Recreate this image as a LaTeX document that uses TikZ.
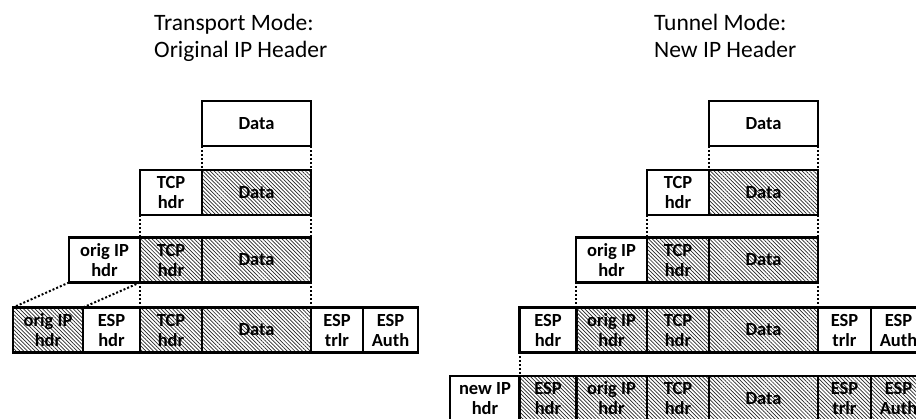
\documentclass[tikz,border=0pt]{standalone}
\usepackage{fontspec}
\setmainfont{Carlito}
\usetikzlibrary{patterns.meta}

\begin{document}
\begin{tikzpicture}[x=1pt, y=-1pt,
    pkt/.style={draw, line width=2.7pt, inner sep=0pt, outer sep=0pt, minimum height=45pt,
        align=center, text depth=-8pt, font=\bfseries\fontsize{18.5}{20}\selectfont},
    enc/.style={pkt, pattern={Lines[angle=-45, distance=2.7pt, line width=0.7pt]}, pattern color=black!85},
    guide/.style={line width=2pt, dotted},
    title/.style={anchor=base west, inner sep=0pt, align=left, font=\fontsize{23.5}{26.3}\selectfont}]
    \clip (0, 0) rectangle (916, 419);

    % transport mode
    \node[title] at (154, 57.3) (ltitle) {Transport Mode:\\Original IP Header};

    \node[pkt, minimum width=109pt] at (256.5, 123.5) (ld1) {Data};

    \node[pkt, minimum width=62pt] at (171, 192.5) (lt2) {TCP\\hdr};
    \node[enc, minimum width=109pt] at (256.5, 192.5) (ld2) {Data};

    \node[pkt, minimum width=71pt] at (104.5, 260) (lo3) {orig IP\\hdr};
    \node[enc, minimum width=62pt] at (171, 260) (lt3) {TCP\\hdr};
    \node[enc, minimum width=109pt] at (256.5, 260) (ld3) {Data};

    \node[enc, minimum width=70pt] at (48, 330) (lo4) {orig IP\\hdr};
    \node[pkt, minimum width=57pt] at (111.5, 330) (le4) {ESP\\hdr};
    \node[enc, minimum width=62pt] at (171, 330) (lt4) {TCP\\hdr};
    \node[enc, minimum width=109pt] at (256.5, 330) (ld4) {Data};
    \node[pkt, minimum width=52pt] at (337, 330) (lr4) {ESP\\trlr};
    \node[pkt, minimum width=55pt] at (390.5, 330) (la4) {ESP\\Auth};

    \draw[guide] (ld1.south west) -- (ld2.north west);
    \draw[guide] (ld1.south east) -- (ld2.north east);
    \draw[guide] (lt2.south west) -- (lt3.north west);
    \draw[guide] (ld2.south east) -- (ld3.north east);
    \draw[guide] (lo3.south west) -- (lo4.north west);
    \draw[guide] (lo3.south east) -- (le4.north west);
    \draw[guide] (lt3.south west) -- (lt4.north west);
    \draw[guide] (ld3.south east) -- (ld4.north east);

    % tunnel mode
    \node[title] at (654, 57.3) (rtitle) {Tunnel Mode:\\New IP Header};

    \node[pkt, minimum width=109pt] at (763.5, 123.5) (rd1) {Data};

    \node[pkt, minimum width=62pt] at (678, 192.5) (rt2) {TCP\\hdr};
    \node[enc, minimum width=109pt] at (763.5, 192.5) (rd2) {Data};

    \node[pkt, minimum width=71pt] at (611.5, 260) (ro3) {orig IP\\hdr};
    \node[enc, minimum width=62pt] at (678, 260) (rt3) {TCP\\hdr};
    \node[enc, minimum width=109pt] at (763.5, 260) (rd3) {Data};

    \node[pkt, minimum width=57pt] at (548, 330) (re4) {ESP\\hdr};
    \node[enc, minimum width=71pt] at (611.5, 330) (ro4) {orig IP\\hdr};
    \node[enc, minimum width=62pt] at (678, 330) (rt4) {TCP\\hdr};
    \node[enc, minimum width=109pt] at (763.5, 330) (rd4) {Data};
    \node[pkt, minimum width=53pt] at (844.5, 330) (rr4) {ESP\\trlr};
    \node[pkt, minimum width=55pt] at (898.5, 330) (ra4) {ESP\\Auth};

    \node[pkt, minimum width=70pt] at (485, 398.5) (rn5) {new IP\\hdr};
    \node[enc, minimum width=57pt] at (548, 398.5) (re5) {ESP\\hdr};
    \node[enc, minimum width=71pt] at (611.5, 398.5) (ro5) {orig IP\\hdr};
    \node[enc, minimum width=62pt] at (678, 398.5) (rt5) {TCP\\hdr};
    \node[enc, minimum width=109pt] at (763.5, 398.5) (rd5) {Data};
    \node[enc, minimum width=53pt] at (844.5, 398.5) (rr5) {ESP\\trlr};
    \node[enc, minimum width=55pt] at (898.5, 398.5) (ra5) {ESP\\Auth};

    \draw[guide] (rd1.south west) -- (rd2.north west);
    \draw[guide] (rd1.south east) -- (rd2.north east);
    \draw[guide] (rt2.south west) -- (rt3.north west);
    \draw[guide] (rd2.south east) -- (rd3.north east);
    \draw[guide] (ro3.south west) -- (ro4.north west);
    \draw[guide] (rd3.south east) -- (rd4.north east);
    \draw[guide] (re4.south west) -- (re5.north west);
\end{tikzpicture}
\end{document}
